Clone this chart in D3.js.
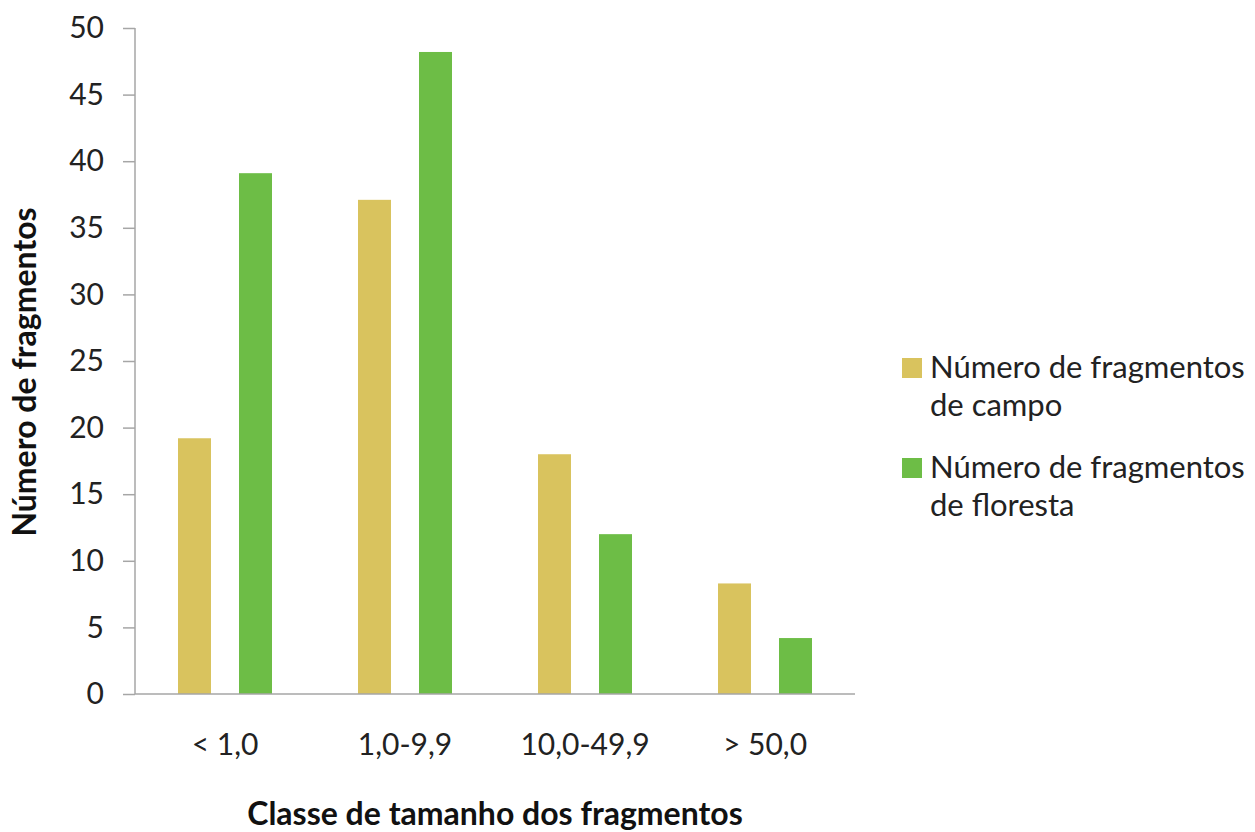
<!DOCTYPE html>
<html>
<head>
<meta charset="utf-8">
<script src="https://cdn.jsdelivr.net/npm/d3@7"></script>
<style>
  html, body { margin: 0; padding: 0; background: #fff; }
  svg { display: block; font-family: Lato, "Open Sans", sans-serif; }
</style>
</head>
<body>
<svg id="chart" width="1255" height="832"></svg>
<script>
// Size classes of fragments (ha)
const categories = ["< 1,0", "1,0-9,9", "10,0-49,9", "> 50,0"];
const seriesNames = ["Número de fragmentos de campo", "Número de fragmentos de floresta"];
const campo = [19.2, 37.1, 18.0, 8.3];
const floresta = [39.1, 48.2, 12.0, 4.2];
const yTicks = [0, 5, 10, 15, 20, 25, 30, 35, 40, 45, 50];
const legendLines = [["Número de fragmentos", "de campo"], ["Número de fragmentos", "de floresta"]];
const colors = ["#d9c35e", "#6dbd46"];

const svg = d3.select("#chart");
const axisColor = "#a6a6a6";
const textColor = "#222";

const margin = { left: 135, right: 855, top: 28, bottom: 694 };

const x0 = d3.scaleBand().domain(categories).range([margin.left, margin.right]).padding(0);
const x1 = d3.scaleBand().domain(seriesNames).range([0, x0.bandwidth()])
  .paddingInner(0.459).paddingOuter(0.705);
const y = d3.scaleLinear().domain([0, 50]).range([margin.bottom, margin.top]);

const rows = categories.map((c, i) => ({ cat: c, values: [campo[i], floresta[i]] }));

// Bars
const groups = svg.append("g").selectAll("g").data(rows).join("g")
  .attr("transform", d => `translate(${x0(d.cat)},0)`);
groups.selectAll("rect")
  .data(d => d.values.map((v, k) => ({ key: seriesNames[k], v, k })))
  .join("rect")
  .attr("x", d => x1(d.key))
  .attr("width", x1.bandwidth())
  .attr("y", d => y(d.v))
  .attr("height", d => y(0) - y(d.v))
  .attr("fill", d => colors[d.k]);

// Y axis
const yAxis = d3.axisLeft(y).tickValues(yTicks).tickSize(12).tickPadding(19).tickFormat(d3.format("d"));
const gy = svg.append("g").attr("transform", `translate(${margin.left},0)`).call(yAxis);
gy.select(".domain").attr("stroke", axisColor).attr("stroke-width", 1.5).attr("d", `M0,${margin.bottom}V${margin.top}`);
gy.selectAll(".tick line").attr("stroke", axisColor).attr("stroke-width", 1.5);
gy.selectAll(".tick text").attr("fill", textColor).style("font-size", "30px").style("font-family", "Lato, sans-serif");

// X axis
const xAxis = d3.axisBottom(x0).tickSize(0).tickPadding(40);
const gx = svg.append("g").attr("transform", `translate(0,${margin.bottom})`).call(xAxis);
gx.select(".domain").attr("stroke", axisColor).attr("stroke-width", 1.5).attr("d", `M${margin.left},0H${margin.right}`);
gx.selectAll(".tick text").attr("fill", textColor).style("font-size", "30px").style("font-family", "Lato, sans-serif");

// Axis titles
svg.append("text")
  .attr("x", (margin.left + margin.right) / 2).attr("y", 825)
  .attr("text-anchor", "middle").attr("fill", "#111")
  .style("font-size", "32px").style("font-weight", "bold")
  .text("Classe de tamanho dos fragmentos");

svg.append("text")
  .attr("transform", `translate(36,${(margin.top + margin.bottom) / 2 + 11}) rotate(-90)`)
  .attr("text-anchor", "middle").attr("fill", "#111")
  .style("font-size", "32px").style("font-weight", "bold")
  .text("Número de fragmentos");

// Legend
const legend = svg.append("g").attr("transform", "translate(902,358)");
const items = legend.selectAll("g").data(legendLines).join("g")
  .attr("transform", (d, i) => `translate(0,${i * 100})`);
items.append("rect").attr("width", 20).attr("height", 20).attr("fill", (d, i) => colors[i]);
items.append("text")
  .attr("x", 28).attr("y", 20).attr("fill", textColor).style("font-size", "31px")
  .selectAll("tspan").data(d => d).join("tspan")
  .attr("x", 28).attr("dy", (d, j) => j === 0 ? 0 : 38)
  .text(d => d);
</script>
</body>
</html>
